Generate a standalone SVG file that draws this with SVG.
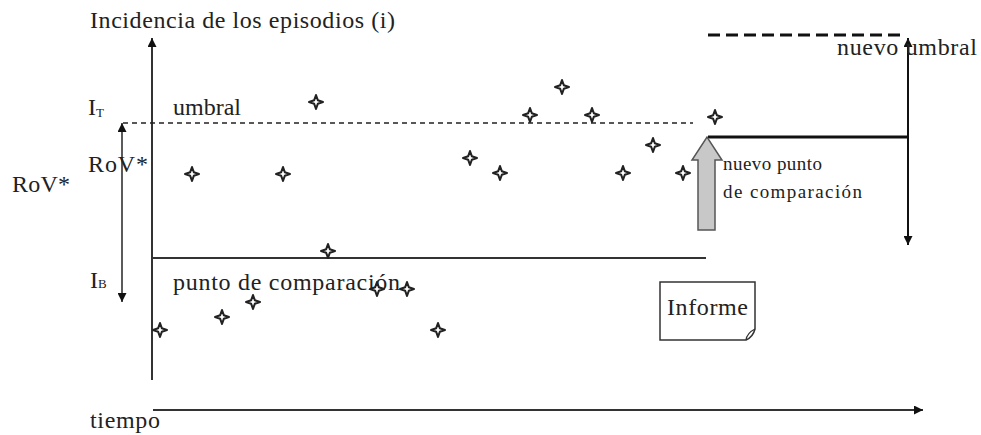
<svg xmlns="http://www.w3.org/2000/svg" width="981" height="435" viewBox="0 0 981 435">
<style>
text{font-family:"Liberation Serif","Times New Roman",serif;fill:#222;}
.lbl{font-size:24px;}
.sm{font-size:19px;}
.sub{font-size:13px;}
.star{fill:#fff;stroke:#222;stroke-width:2;stroke-linejoin:round;}
.ax{stroke:#333;stroke-width:2;fill:none;}
</style>
<defs>
<marker id="ah" viewBox="0 0 10 10" refX="10" refY="5" markerWidth="11" markerHeight="9" markerUnits="userSpaceOnUse" orient="auto-start-reverse">
<path d="M0,0 L10,5 L0,10 z" fill="#111"/>
</marker>
<path id="st" d="M0,-7 L1.8,-1.8 L7,0 L1.8,1.8 L0,7 L-1.8,1.8 L-7,0 L-1.8,-1.8 Z"/>
</defs>
<rect width="981" height="435" fill="#fff"/>

<g id="connectors">
<line id="y-axis" class="ax" x1="152" y1="380" x2="152" y2="38" marker-end="url(#ah)"/>
<line id="x-axis" class="ax" x1="153" y1="410" x2="923" y2="410" stroke="#555" marker-end="url(#ah)"/>
<line id="rov-arrow" stroke="#333" stroke-width="1.6" x1="122" y1="123" x2="122" y2="302" marker-start="url(#ah)" marker-end="url(#ah)"/>
<line id="threshold" x1="123" y1="123" x2="693" y2="123" stroke="#222" stroke-width="1.6" stroke-dasharray="5,4"/>
<line id="baseline" x1="152" y1="258" x2="706" y2="258" stroke="#333" stroke-width="2"/>
<line id="new-baseline" x1="708" y1="137" x2="908" y2="137" stroke="#111" stroke-width="3"/>
<line id="new-threshold" x1="708" y1="35" x2="902" y2="35" stroke="#111" stroke-width="3" stroke-dasharray="12,6"/>
<line id="new-rov-arrow" x1="908" y1="38" x2="908" y2="245" stroke="#111" stroke-width="2" marker-start="url(#ah)" marker-end="url(#ah)"/>
<polygon id="shift-arrow" points="698,230 715,230 715,160 722,160 707,137 692,160 698,160" fill="#c8c8c8" stroke="#555" stroke-width="1.5"/>
</g>

<g id="title"><text class="lbl" x="90" y="28" textLength="305" lengthAdjust="spacing">Incidencia de los episodios (i)</text></g>
<g id="label-it"><text class="lbl" x="88" y="115">I</text><text class="sub" x="96" y="117">T</text></g>
<g id="label-umbral"><text class="lbl" x="173" y="115" textLength="68" lengthAdjust="spacing">umbral</text></g>
<g id="label-rov1"><text class="lbl" x="88" y="172" textLength="60" lengthAdjust="spacing">RoV*</text></g>
<g id="label-rov2"><text class="lbl" x="12" y="192" textLength="58" lengthAdjust="spacing">RoV*</text></g>
<g id="label-ib"><text class="lbl" x="90" y="288">I</text><text class="sub" x="98" y="288">B</text></g>
<g id="label-punto"><text class="lbl" x="173" y="290" textLength="227" lengthAdjust="spacing">punto de comparación</text></g>
<g id="label-tiempo"><text class="lbl" x="90" y="428" textLength="70" lengthAdjust="spacing">tiempo</text></g>
<g id="label-nuevo-umbral"><text class="lbl" x="837" y="55" textLength="140" lengthAdjust="spacing">nuevo umbral</text></g>
<g id="label-nuevo-punto">
<text class="sm" x="723" y="170" textLength="99" lengthAdjust="spacing">nuevo punto</text>
<text class="sm" x="723" y="198" textLength="139" lengthAdjust="spacing">de comparación</text>
</g>
<g id="informe">
<path d="M660,282 H755 V329 Q753,337 746,340 H660 Z" fill="#fff" stroke="#333" stroke-width="1.5"/>
<path d="M746,340 Q747,333 755,329" fill="none" stroke="#333" stroke-width="1.3"/>
<text class="lbl" x="667" y="315" textLength="81" lengthAdjust="spacing">Informe</text>
</g>

<g id="points">
<use href="#st" class="star" x="160" y="330"/>
<use href="#st" class="star" x="192" y="174"/>
<use href="#st" class="star" x="222" y="317"/>
<use href="#st" class="star" x="253" y="302"/>
<use href="#st" class="star" x="283" y="174"/>
<use href="#st" class="star" x="316" y="102"/>
<use href="#st" class="star" x="328" y="251"/>
<use href="#st" class="star" x="377" y="289"/>
<use href="#st" class="star" x="407" y="289"/>
<use href="#st" class="star" x="438" y="330"/>
<use href="#st" class="star" x="470" y="158"/>
<use href="#st" class="star" x="500" y="173"/>
<use href="#st" class="star" x="530" y="115"/>
<use href="#st" class="star" x="562" y="87"/>
<use href="#st" class="star" x="592" y="115"/>
<use href="#st" class="star" x="623" y="173"/>
<use href="#st" class="star" x="653" y="145"/>
<use href="#st" class="star" x="683" y="173"/>
<use href="#st" class="star" x="715" y="117"/>
</g>
</svg>
